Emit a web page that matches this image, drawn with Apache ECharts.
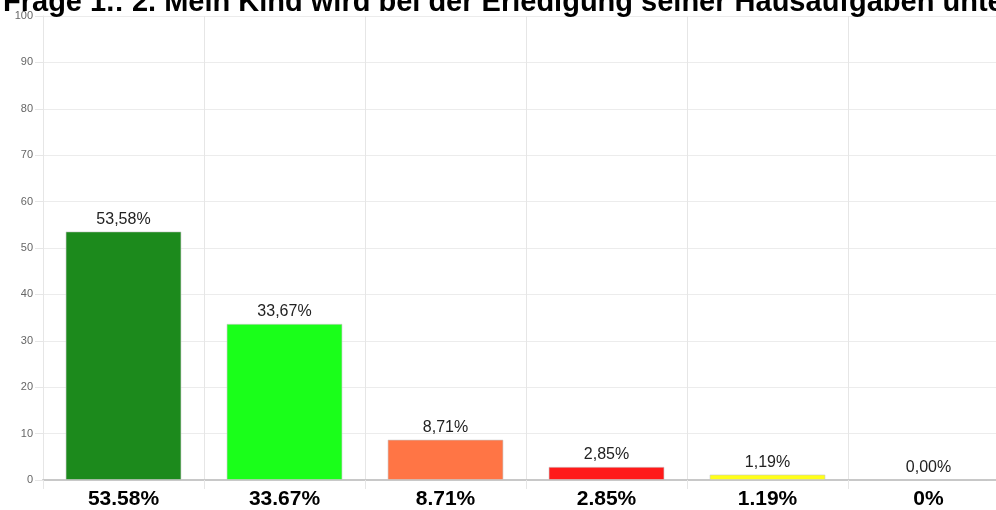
<!DOCTYPE html>
<html style="height: 100%">
<head>
    <meta charset="utf-8">
    <title>Frage 1.: 2.</title>
    <script src="https://cdn.jsdelivr.net/npm/echarts@6/dist/echarts.min.js"></script>
</head>
<body style="height: 100%; margin: 0; overflow: hidden">
    <!-- Diagramm ist etwas breiter als das Fenster, rechts abgeschnitten -->
    <div id="container" style="width: 1009px; height: 510px"></div>
    <script type="text/javascript">
        // Daten
        var categories = ['53.58%', '33.67%', '8.71%', '2.85%', '1.19%', '0%'];
        var values = [53.58, 33.67, 8.71, 2.85, 1.19, 0];
        var valueLabels = ['53,58%', '33,67%', '8,71%', '2,85%', '1,19%', '0,00%'];
        var barColors = ['#1c8a1c', '#1aff1a', '#ff7545', '#ff1a1a', '#ffff1a', '#cccccc'];
        var titleText = 'Frage 1.: 2. Mein Kind wird bei der Erledigung seiner Hausaufgaben unterstützt.';

        var myChart = echarts.init(document.getElementById('container'));

        var seriesData = values.map(function (v, i) {
            return {
                value: v,
                itemStyle: { color: barColors[i] },
                label: { formatter: valueLabels[i] }
            };
        });

        var option = {
            animation: false,
            title: {
                text: titleText,
                left: 3,
                top: -12,
                padding: 0,
                textStyle: {
                    fontFamily: 'Liberation Sans',
                    fontSize: 29,
                    fontWeight: 'bold',
                    color: '#000'
                }
            },
            grid: {
                left: 43,
                right: 0,
                top: 16,
                bottom: 29,
                containLabel: false
            },
            xAxis: {
                type: 'category',
                data: categories,
                axisLine: { lineStyle: { color: '#c8c8c8', width: 2 } },
                axisTick: { show: true, length: 9, lineStyle: { color: '#e6e6e6' } },
                splitLine: { show: true, lineStyle: { color: '#e6e6e6' } },
                axisLabel: {
                    margin: 9,
                    fontFamily: 'Liberation Sans',
                    fontSize: 21,
                    fontWeight: 'bold',
                    color: '#000'
                }
            },
            yAxis: {
                type: 'value',
                min: 0,
                max: 100,
                interval: 10,
                axisLine: { show: true, lineStyle: { color: '#e6e6e6' } },
                axisTick: { show: true, length: 8, lineStyle: { color: '#e6e6e6' } },
                splitLine: { lineStyle: { color: '#ececec' } },
                axisLabel: {
                    margin: 10,
                    fontFamily: 'Liberation Sans',
                    fontSize: 11,
                    color: '#666'
                }
            },
            series: [{
                type: 'bar',
                data: seriesData,
                barWidth: '72%',
                itemStyle: {
                    borderColor: 'rgba(200,200,200,0.6)',
                    borderWidth: 1
                },
                label: {
                    show: true,
                    position: 'top',
                    distance: 4,
                    fontFamily: 'Liberation Sans',
                    fontSize: 16,
                    color: '#222'
                }
            }]
        };

        myChart.setOption(option);
    </script>
</body>
</html>
